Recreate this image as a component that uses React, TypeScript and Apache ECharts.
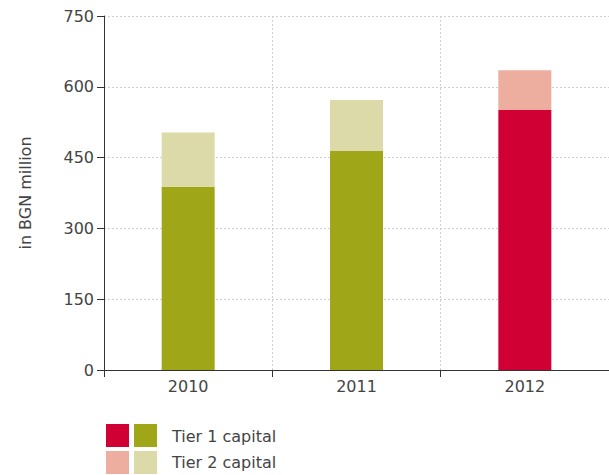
import React, { useEffect, useRef } from "react";
import * as echarts from "echarts";

const categories = ["2010", "2011", "2012"];
const tier1 = [388, 464, 551];
const tier2 = [115, 108, 84];
const tier1Colors = ["#9fa617", "#9fa617", "#d10034"];
const tier2Colors = ["#dcdaa9", "#dcdaa9", "#edaea0"];
const legendLabels = ["Tier 1 capital", "Tier 2 capital"];
const yTicks = { min: 0, max: 750, interval: 150 };

const FONT = "DejaVu Sans";
const TEXT = "#444";

export default function App() {
  const ref = useRef<HTMLDivElement>(null);
  useEffect(() => {
    const chart = echarts.init(ref.current!, undefined, { renderer: "svg" });
    const grid = { type: [2, 2], color: "#cfcfcf", width: 1 };
    chart.setOption({
      animation: false,
      grid: { left: 104, top: 16, width: 507, bottom: 105, containLabel: false },
      xAxis: {
        type: "category",
        data: categories,
        axisLine: { show: true, lineStyle: { color: "#333", width: 1 } },
        axisTick: { show: true, alignWithLabel: false, length: 7, lineStyle: { color: "#333" } },
        axisLabel: { color: TEXT, fontFamily: FONT, fontSize: 16, margin: 8 },
        splitLine: { show: true, lineStyle: grid },
      },
      yAxis: {
        type: "value",
        min: yTicks.min,
        max: yTicks.max,
        interval: yTicks.interval,
        name: "in BGN million",
        nameLocation: "middle",
        nameGap: 71,
        nameRotate: 90,
        nameTextStyle: { color: TEXT, fontFamily: FONT, fontSize: 16 },
        axisLine: { show: true, lineStyle: { color: "#333", width: 1 } },
        axisTick: { show: true, length: 7, lineStyle: { color: "#333" } },
        axisLabel: { color: TEXT, fontFamily: FONT, fontSize: 16, margin: 10 },
        splitLine: { show: true, lineStyle: grid },
      },
      series: [
        {
          type: "bar",
          name: "Tier 1 capital",
          stack: "cap",
          barWidth: 53,
          data: tier1.map((v, i) => ({ value: v, itemStyle: { color: tier1Colors[i] } })),
        },
        {
          type: "bar",
          name: "Tier 2 capital",
          stack: "cap",
          barWidth: 53,
          data: tier2.map((v, i) => ({ value: v, itemStyle: { color: tier2Colors[i] } })),
        },
      ],
      graphic: [
        { type: "rect", left: 106, top: 424, shape: { width: 23, height: 23 }, style: { fill: tier1Colors[2] } },
        { type: "rect", left: 134, top: 424, shape: { width: 23, height: 23 }, style: { fill: tier1Colors[0] } },
        { type: "rect", left: 106, top: 451, shape: { width: 23, height: 23 }, style: { fill: tier2Colors[2] } },
        { type: "rect", left: 134, top: 451, shape: { width: 23, height: 23 }, style: { fill: tier2Colors[0] } },
        {
          type: "text", left: 172, top: 428,
          style: { text: legendLabels[0], fill: TEXT, font: `16px '${FONT}'` },
        },
        {
          type: "text", left: 172, top: 454,
          style: { text: legendLabels[1], fill: TEXT, font: `16px '${FONT}'` },
        },
      ],
    });
    return () => chart.dispose();
  }, []);
  return <div ref={ref} style={{ width: 609, height: 475, position: "absolute", left: 0, top: 0 }} />;
}
